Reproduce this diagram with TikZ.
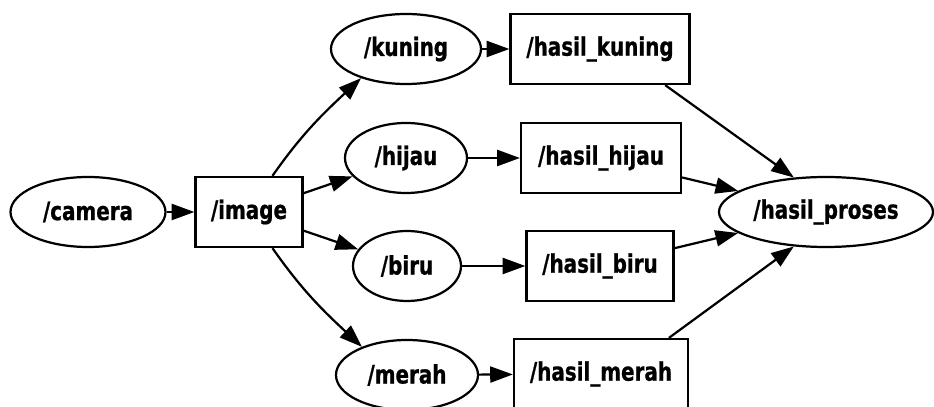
\documentclass[tikz,border=0pt]{standalone}
\usepackage{fontspec}
\setmainfont{DejaVu Sans}
\newfontfamily\nodefont[FakeStretch=0.78,FakeBold=0.8]{DejaVu Sans Bold}
\usetikzlibrary{arrows.meta,shapes.geometric}

\begin{document}
\begin{tikzpicture}[
  topic/.style={draw, line width=1.9pt, ellipse, minimum height=2.1cm, inner sep=0pt, font=\nodefont\fontsize{21.8}{26}\selectfont},
  proc/.style={draw, line width=1.9pt, rectangle, minimum height=2.1cm, inner sep=0pt, font=\nodefont\fontsize{21.8}{26}\selectfont},
  link/.style={line width=1.9pt, -{Triangle[length=0.68cm, width=0.48cm]}}
]
\useasboundingbox (0,0) rectangle (28.02,12.21);

\node[topic, minimum width=4.65cm] (camera) at (2.64,5.85) {/camera};
\node[proc, minimum width=3.21cm] (image) at (7.47,5.85) {/image};

\node[topic, minimum width=4.5cm] (kuning) at (12.18,10.74) {/kuning};
\node[topic, minimum width=3.66cm] (hijau) at (12.18,7.47) {/hijau};
\node[topic, minimum width=3.24cm] (biru) at (12.21,4.23) {/biru};
\node[topic, minimum width=4.26cm] (merah) at (12.21,0.96) {/merah};

\node[proc, minimum width=5.37cm] (hkuning) at (18.0,10.74) {/hasil\_kuning};
\node[proc, minimum width=4.8cm] (hhijau) at (18.03,7.47) {/hasil\_hijau};
\node[proc, minimum width=4.41cm] (hbiru) at (18.0,4.23) {/hasil\_biru};
\node[proc, minimum width=5.22cm] (hmerah) at (18.03,0.99) {/hasil\_merah};

\node[topic, minimum width=6.42cm] (proses) at (24.78,5.85) {/hasil\_proses};

\draw[link] (camera) -- (image);
\draw[link] (image.57) to[out=55,in=-137] (kuning.-147);
\draw[link] (image) -- (hijau);
\draw[link] (image) -- (biru);
\draw[link] (image.-57) to[out=-55,in=137] (merah.148);

\draw[link] (kuning) -- (hkuning);
\draw[link] (hijau) -- (hhijau);
\draw[link] (biru) -- (hbiru);
\draw[link] (merah) -- (hmerah);

\draw[link] (hkuning.-29) -- (proses.133);
\draw[link] (hhijau) -- (proses);
\draw[link] (hbiru) -- (proses);
\draw[link] (hmerah.28) -- (proses.-133);
\end{tikzpicture}
\end{document}
